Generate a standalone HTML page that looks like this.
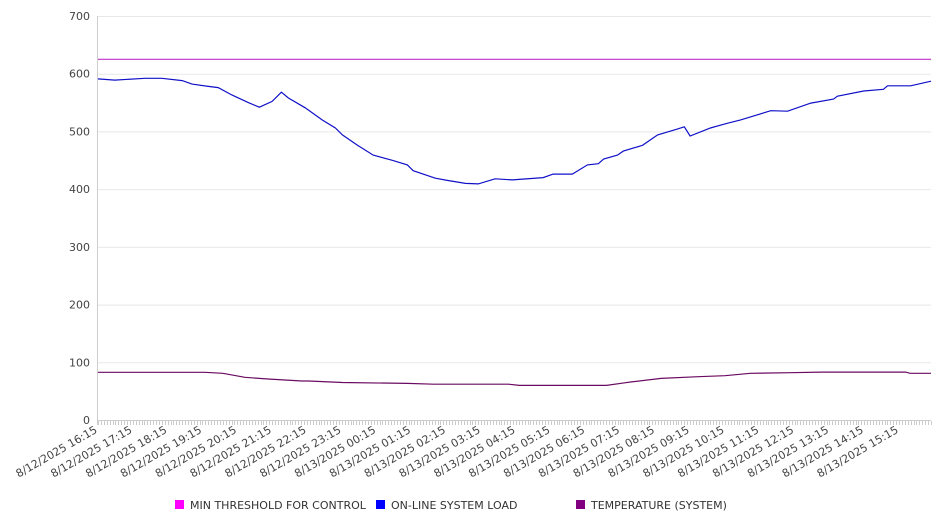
<!DOCTYPE html>
<html><head><meta charset="utf-8"><style>
body{margin:0;background:#fff;}
svg{display:block;font-family:"DejaVu Sans","Liberation Sans",sans-serif;}
</style></head><body>
<svg id="chart" width="946" height="526" xmlns="http://www.w3.org/2000/svg">
<g id="grid"></g>
<g id="yaxis"></g>
<g id="xaxis"></g>
<g id="series"></g>
<g id="legend"></g>
</svg>
<script>
const yTicks = [0,100,200,300,400,500,600,700];
const xTickLabels = ["8/12/2025 16:15","8/12/2025 17:15","8/12/2025 18:15","8/12/2025 19:15","8/12/2025 20:15","8/12/2025 21:15","8/12/2025 22:15","8/12/2025 23:15","8/13/2025 00:15","8/13/2025 01:15","8/13/2025 02:15","8/13/2025 03:15","8/13/2025 04:15","8/13/2025 05:15","8/13/2025 06:15","8/13/2025 07:15","8/13/2025 08:15","8/13/2025 09:15","8/13/2025 10:15","8/13/2025 11:15","8/13/2025 12:15","8/13/2025 13:15","8/13/2025 14:15","8/13/2025 15:15"];
const totalMinutes = 1435;
const stepMinutes = 5;
const thresholdTimes = [0,1435];
const thresholdValues = [625,625];
const loadTimes = [0,29,81,110,145,162,190,207,231,259,278,300,316,328,357,386,409,421,447,474,507,533,543,581,603,633,655,684,714,767,784,817,843,862,871,895,905,938,964,998,1010,1020,1055,1084,1107,1159,1188,1228,1267,1274,1319,1353,1360,1400,1435];
const loadValues = [591,589,592,592,588,582,578,576,563,550,542,552,568,558,541,520,506,494,476,459,450,442,432,419,415,410,409,418,416,420,426,426,442,444,452,459,466,476,494,504,508,492,506,514,520,536,535,549,556,561,570,573,579,579,587];
const tempTimes = [0,184,215,253,293,351,363,421,533,578,707,726,876,909,919,970,1034,1080,1124,1193,1245,1391,1399,1435];
const tempValues = [82.6,82.6,81,74,71,67.6,67.6,65,63.5,62,62,60,60,64.7,66,72,75,76.8,81,82,83,83,81,81];

const L=98,R=931,T=16,B=420,yMax=700;
const sx=t=>L+(t/totalMinutes)*(R-L);
const sy=v=>B-(v/yMax)*(B-T);
const NS="http://www.w3.org/2000/svg";
function mk(tag,parent){const e=document.createElementNS(NS,tag);parent.appendChild(e);return e;}
const grid=document.getElementById('grid'),ya=document.getElementById('yaxis'),xa=document.getElementById('xaxis'),ser=document.getElementById('series'),leg=document.getElementById('legend');

yTicks.forEach(v=>{
  if(v>0){const g=mk('line',grid);
  
  
  g.setAttribute('x1',L);g.setAttribute('x2',R);g.setAttribute('y1',sy(v)+0.5);g.setAttribute('y2',sy(v)+0.5);g.setAttribute('stroke','#e8e8e8');}
  const t=mk('text',ya);
  
  
  t.setAttribute('x',90);t.setAttribute('y',sy(v)+4);t.setAttribute('text-anchor','end');t.setAttribute('font-size','11');t.setAttribute('fill','#444');t.textContent=v;
});
const yl=mk('line',ya);


yl.setAttribute('x1',L-0.5);yl.setAttribute('x2',L-0.5);yl.setAttribute('y1',T);yl.setAttribute('y2',B+5);yl.setAttribute('stroke','#ccc');
const xl=mk('line',xa);


xl.setAttribute('x1',L);xl.setAttribute('x2',R);xl.setAttribute('y1',B+0.5);xl.setAttribute('y2',B+0.5);xl.setAttribute('stroke','#ccc');
let d='';
for(let m=0;m<=totalMinutes;m+=stepMinutes){const x=Math.round(sx(m))+0.5;d+='M'+x+' '+(B+1)+'V'+(B+5);}
const tk=mk('path',xa);


tk.setAttribute('d',d);tk.setAttribute('stroke','#ccc');
xTickLabels.forEach((lab,i)=>{
  const x=sx(i*60),y=B+12;
  const t=mk('text',xa);
  
  
  t.setAttribute('x',x);t.setAttribute('y',y);t.setAttribute('text-anchor','end');t.setAttribute('font-size','11');t.setAttribute('fill','#444');
  t.setAttribute('transform','rotate(-30 '+x+' '+y+')');t.textContent=lab;
});
function line(times,vals,color,name){
  const p=mk('polyline',ser);
  
  
  p.setAttribute('points',times.map((t,i)=>sx(t).toFixed(1)+','+sy(vals[i]).toFixed(1)).join(' '));
  p.setAttribute('fill','none');p.setAttribute('stroke',color);p.setAttribute('stroke-width','1.2');
}
line(thresholdTimes,thresholdValues,'#c030c8','min-threshold-line');
line(tempTimes,tempValues,'#6a0a60','temperature-line');
line(loadTimes,loadValues,'#1010c8','online-load-line');

const legendItems=[["MIN THRESHOLD FOR CONTROL","#ff00ff",175],["ON-LINE SYSTEM LOAD","#0000ff",376],["TEMPERATURE (SYSTEM)","#800080",576]];
legendItems.forEach(it=>{
  const g=mk('g',leg);
  
  
  const r=mk('rect',g);
  
  
  r.setAttribute('x',it[2]);r.setAttribute('y',500);r.setAttribute('width',9);r.setAttribute('height',9);r.setAttribute('fill',it[1]);
  const t=mk('text',g);
  
  
  t.setAttribute('x',it[2]+15);t.setAttribute('y',509);t.setAttribute('font-size','11');t.setAttribute('fill','#333');t.textContent=it[0];
});
</script>
</body></html>
